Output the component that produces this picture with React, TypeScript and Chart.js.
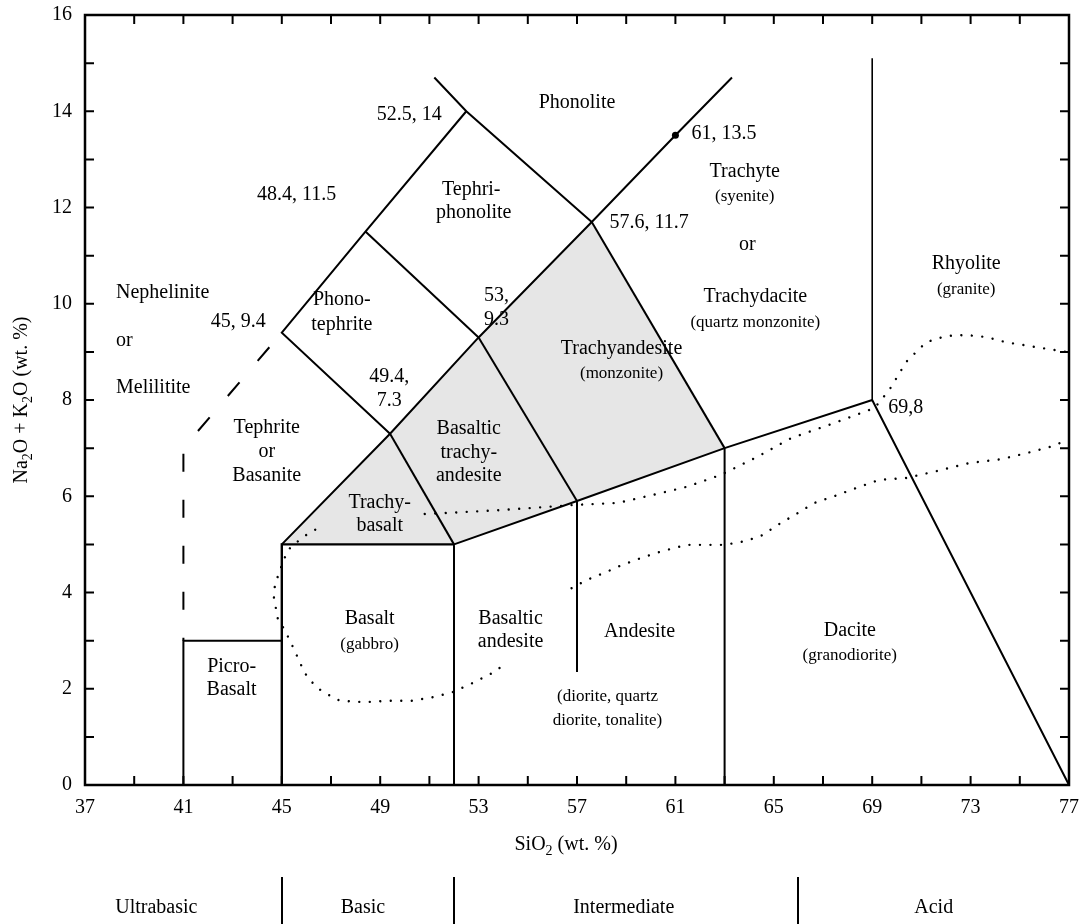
import { useEffect, useRef } from 'react';
import { Chart, registerables } from 'chart.js';

Chart.register(...registerables);

const SERIF = '"Liberation Serif", "Times New Roman", Times, serif';

// Axis ranges and tick spacing
const X_MIN = 37;
const X_MAX = 77;
const X_LABEL_STEP = 4;
const X_MINOR_STEP = 2;
const Y_MIN = 0;
const Y_MAX = 16;
const Y_LABEL_STEP = 2;
const Y_MINOR_STEP = 1;

// Shaded trachytic fields (SiO2, Na2O + K2O)
const trachybasaltField = [[45, 5], [49.4, 7.3], [52, 5], [45, 5]];
const basalticTrachyandesiteField = [[49.4, 7.3], [53, 9.3], [57, 5.9], [52, 5], [49.4, 7.3]];
const trachyandesiteField = [[53, 9.3], [57.6, 11.7], [63, 7], [57, 5.9], [53, 9.3]];

// Solid field boundaries
const picroBasaltEdge = [[41, 0], [41, 3], [45, 3]];
const basaltEdge = [[45, 0], [45, 5], [52, 5]];
const subalkalineTop = [[52, 0], [52, 5], [57, 5.9], [63, 7], [69, 8], [77, 0]];
const andesiteDivide = [[57, 5.9], [57, 2.35]];
const daciteDivide = [[63, 7], [63, 0]];
const alkalineSpine = [[45, 5], [49.4, 7.3], [53, 9.3], [57.6, 11.7], [61, 13.5], [63.3, 14.7]];
const trachybasaltDivide = [[49.4, 7.3], [52, 5]];
const trachyandesiteDivide = [[53, 9.3], [57, 5.9]];
const trachyteDivide = [[57.6, 11.7], [63, 7]];
const tephriteEdge = [[49.4, 7.3], [45, 9.4], [48.4, 11.5], [52.5, 14]];
const phonotephriteDivide = [[48.4, 11.5], [53, 9.3]];
const phonoliteEdge = [[51.2, 14.7], [52.5, 14], [57.6, 11.7]];
const rhyoliteEdge = [[69, 8], [69, 15.1]];
const foiditeEdge = [[41, 3], [41, 7], [45, 9.4]];

// Marked point on the trachyte boundary
const markedPoint = [[61, 13.5]];

// Dotted curves
const dottedUpperA = [
  [53.85, 2.43], [53.57, 2.33], [52.76, 2.12], [51.94, 1.93], [51.21, 1.83], [50.28, 1.75],
  [49.3, 1.75], [48.37, 1.72], [47.36, 1.75], [46.62, 1.95], [46.26, 2.12], [45.93, 2.33],
  [45.45, 2.87], [45.12, 3.22], [44.84, 3.45], [44.68, 3.89], [44.72, 4.16], [44.96, 4.51],
  [45.24, 4.88], [45.85, 5.15], [46.54, 5.36],
];
const dottedUpperB = [
  [50.81, 5.63], [53.85, 5.71], [56.9, 5.82], [58.65, 5.86], [60.27, 6.05], [61.41, 6.19],
  [62.5, 6.38], [62.91, 6.46], [64.33, 6.82], [65.71, 7.21], [67.34, 7.5], [69.08, 7.83],
  [69.37, 8.0], [69.77, 8.27], [70.38, 8.79], [71.19, 9.2], [72.0, 9.33], [72.82, 9.35],
  [73.63, 9.31], [74.44, 9.2], [75.9, 9.08], [76.9, 9.0],
];
const dottedLower = [
  [56.78, 4.09], [57.39, 4.26], [58.12, 4.41], [58.73, 4.55], [59.62, 4.72], [60.47, 4.86],
  [61.45, 4.99], [62.3, 4.99], [62.99, 4.99], [63.88, 5.07], [64.53, 5.19], [65.14, 5.4],
  [65.91, 5.63], [66.64, 5.86], [67.5, 6.01], [68.35, 6.17], [69.28, 6.34], [70.38, 6.38],
  [71.6, 6.52], [72.94, 6.69], [74.24, 6.77], [75.46, 6.92], [76.47, 7.06], [76.96, 7.21],
];

// Field names: text, SiO2, Na2O + K2O, style (m = name, s = rock in parentheses), alignment
const fieldLabels: [string, number, number, string, string][] = [
  ['Phonolite', 57.0, 14.17, 'm', 'c'],
  ['52.5, 14', 50.18, 13.92, 'm', 'c'],
  ['61, 13.5', 61.65, 13.53, 'm', 'l'],
  ['Tephri-', 52.7, 12.36, 'm', 'c'],
  ['phonolite', 52.8, 11.89, 'm', 'c'],
  ['Trachyte', 63.82, 12.74, 'm', 'c'],
  ['(syenite)', 63.82, 12.22, 's', 'c'],
  ['or', 63.92, 11.22, 'm', 'c'],
  ['Trachydacite', 64.25, 10.14, 'm', 'c'],
  ['(quartz monzonite)', 64.25, 9.62, 's', 'c'],
  ['48.4, 11.5', 45.6, 12.26, 'm', 'c'],
  ['57.6, 11.7', 58.32, 11.68, 'm', 'l'],
  ['Rhyolite', 72.82, 10.83, 'm', 'c'],
  ['(granite)', 72.82, 10.29, 's', 'c'],
  ['Nephelinite', 38.26, 10.22, 'm', 'l'],
  ['or', 38.26, 9.23, 'm', 'l'],
  ['Melilitite', 38.26, 8.25, 'm', 'l'],
  ['45, 9.4', 43.23, 9.62, 'm', 'c'],
  ['Phono-', 47.44, 10.08, 'm', 'c'],
  ['tephrite', 47.44, 9.56, 'm', 'c'],
  ['53,', 53.73, 10.16, 'm', 'c'],
  ['9.3', 53.73, 9.66, 'm', 'c'],
  ['Trachyandesite', 58.81, 9.06, 'm', 'c'],
  ['(monzonite)', 58.81, 8.54, 's', 'c'],
  ['49.4,', 49.37, 8.48, 'm', 'c'],
  ['7.3', 49.37, 7.98, 'm', 'c'],
  ['69,8', 69.65, 7.83, 'm', 'l'],
  ['Tephrite', 44.39, 7.42, 'm', 'c'],
  ['or', 44.39, 6.92, 'm', 'c'],
  ['Basanite', 44.39, 6.42, 'm', 'c'],
  ['Basaltic', 52.6, 7.4, 'm', 'c'],
  ['trachy-', 52.6, 6.9, 'm', 'c'],
  ['andesite', 52.6, 6.42, 'm', 'c'],
  ['Trachy-', 48.98, 5.86, 'm', 'c'],
  ['basalt', 48.98, 5.38, 'm', 'c'],
  ['Basalt', 48.57, 3.45, 'm', 'c'],
  ['(gabbro)', 48.57, 2.91, 's', 'c'],
  ['Basaltic', 54.3, 3.45, 'm', 'c'],
  ['andesite', 54.3, 2.97, 'm', 'c'],
  ['Andesite', 59.54, 3.18, 'm', 'c'],
  ['(diorite, quartz', 58.24, 1.83, 's', 'c'],
  ['diorite, tonalite)', 58.24, 1.33, 's', 'c'],
  ['Picro-', 42.96, 2.45, 'm', 'c'],
  ['Basalt', 42.96, 1.97, 'm', 'c'],
  ['Dacite', 68.09, 3.2, 'm', 'c'],
  ['(granodiorite)', 68.09, 2.68, 's', 'c'],
];

// Silica classes below the axis
const classNames = ['Ultrabasic', 'Basic', 'Intermediate', 'Acid'];
const classNameSiO2 = [39.9, 48.3, 58.9, 71.5];
const classDividers = [45, 52, 66];

const toPts = (a: number[][]) => a.map(([x, y]) => ({ x, y }));

const solid = (a: number[][], width = 2) => ({
  data: toPts(a),
  showLine: true,
  borderColor: '#000',
  borderWidth: width,
  borderJoinStyle: 'miter',
  pointRadius: 0,
  fill: false,
  tension: 0,
});

const dotted = (a: number[][]) => ({
  data: toPts(a),
  showLine: true,
  borderColor: '#000',
  borderWidth: 2.4,
  borderCapStyle: 'round',
  borderDash: [0.01, 10.5],
  pointRadius: 0,
  fill: false,
  tension: 0,
});

const shaded = (a: number[][]) => ({
  data: toPts(a),
  showLine: true,
  borderWidth: 0,
  borderColor: 'rgba(0,0,0,0)',
  backgroundColor: '#e6e6e6',
  pointRadius: 0,
  fill: 'shape',
  tension: 0,
});

type Part = [string, boolean];

function drawRich(ctx: CanvasRenderingContext2D, parts: Part[], cx: number, cy: number, size: number) {
  const big = `${size}px ${SERIF}`;
  const small = `${Math.round(size * 0.72)}px ${SERIF}`;
  let w = 0;
  for (const [t, sub] of parts) {
    ctx.font = sub ? small : big;
    w += ctx.measureText(t).width;
  }
  let xx = cx - w / 2;
  ctx.textAlign = 'left';
  ctx.textBaseline = 'middle';
  for (const [t, sub] of parts) {
    ctx.font = sub ? small : big;
    ctx.fillText(t, xx, cy + (sub ? size * 0.32 : 0));
    xx += ctx.measureText(t).width;
  }
}

const TICK = 9;

const tasDecor = {
  id: 'tasDecor',
  afterDraw(chart: any) {
    const { ctx, chartArea: a, scales } = chart;
    const x = scales.x;
    const y = scales.y;
    ctx.save();
    ctx.strokeStyle = '#000';
    ctx.fillStyle = '#000';

    // frame
    ctx.lineWidth = 2.5;
    ctx.strokeRect(a.left, a.top, a.right - a.left, a.bottom - a.top);

    // inward tick marks on all four sides
    ctx.lineWidth = 2;
    ctx.beginPath();
    for (let v = X_MIN; v <= X_MAX; v += X_MINOR_STEP) {
      const px = x.getPixelForValue(v);
      ctx.moveTo(px, a.bottom);
      ctx.lineTo(px, a.bottom - TICK);
      ctx.moveTo(px, a.top);
      ctx.lineTo(px, a.top + TICK);
    }
    for (let v = Y_MIN; v <= Y_MAX; v += Y_MINOR_STEP) {
      const py = y.getPixelForValue(v);
      ctx.moveTo(a.left, py);
      ctx.lineTo(a.left + TICK, py);
      ctx.moveTo(a.right, py);
      ctx.lineTo(a.right - TICK, py);
    }
    ctx.stroke();

    // field names
    for (const [t, sx, sy, style, align] of fieldLabels) {
      ctx.font = `${style === 's' ? 17 : 20}px ${SERIF}`;
      ctx.textAlign = align === 'l' ? 'left' : align === 'r' ? 'right' : 'center';
      ctx.textBaseline = 'middle';
      ctx.fillText(t, x.getPixelForValue(sx), y.getPixelForValue(sy));
    }

    // axis titles
    drawRich(ctx, [['SiO', false], ['2', true], [' (wt. %)', false]], 566, 845, 20);
    ctx.save();
    ctx.translate(22, (a.top + a.bottom) / 2);
    ctx.rotate(-Math.PI / 2);
    drawRich(ctx, [['Na', false], ['2', true], ['O + K', false], ['2', true], ['O (wt. %)', false]], 0, 0, 20);
    ctx.restore();

    // silica classes
    ctx.lineWidth = 2;
    ctx.beginPath();
    for (const d of classDividers) {
      const px = Math.round(x.getPixelForValue(d));
      ctx.moveTo(px, 877);
      ctx.lineTo(px, chart.height);
    }
    ctx.stroke();
    ctx.font = `20px ${SERIF}`;
    ctx.textAlign = 'center';
    ctx.textBaseline = 'middle';
    classNames.forEach((n, i) => ctx.fillText(n, x.getPixelForValue(classNameSiO2[i]), 908));

    ctx.restore();
  },
};

export default function App() {
  const ref = useRef<HTMLCanvasElement | null>(null);

  useEffect(() => {
    if (!ref.current) return;
    // Chart.js paints the first dataset on top, so boundaries come first and fills last.
    const chart = new Chart(ref.current, {
      type: 'scatter',
      data: {
        datasets: [
          {
            data: toPts(markedPoint),
            showLine: false,
            pointRadius: 3.5,
            pointBackgroundColor: '#000',
            pointBorderWidth: 0,
          },
          solid(picroBasaltEdge),
          solid(basaltEdge, 2.4),
          solid(subalkalineTop),
          solid(andesiteDivide),
          solid(daciteDivide),
          solid(alkalineSpine),
          solid(trachybasaltDivide),
          solid(trachyandesiteDivide),
          solid(trachyteDivide),
          solid(tephriteEdge),
          solid(phonotephriteDivide),
          solid(phonoliteEdge),
          solid(rhyoliteEdge, 1.6),
          {
            ...solid(foiditeEdge),
            borderDash: [18, 28],
            borderDashOffset: 15,
            borderCapStyle: 'butt',
          },
          dotted(dottedUpperA),
          dotted(dottedUpperB),
          dotted(dottedLower),
          shaded(trachybasaltField),
          shaded(basalticTrachyandesiteField),
          shaded(trachyandesiteField),
        ] as any,
      },
      options: {
        responsive: false,
        animation: false,
        events: [],
        layout: { padding: { left: 0, right: 13, top: 15, bottom: 94 } },
        plugins: {
          legend: { display: false },
          tooltip: { enabled: false },
        },
        scales: {
          x: {
            type: 'linear',
            min: X_MIN,
            max: X_MAX,
            grid: { display: false, drawTicks: false },
            border: { display: false },
            afterFit: (s: any) => {
              s.height = 45;
              s.paddingLeft = 0;
              s.paddingRight = 0;
            },
            ticks: {
              stepSize: X_LABEL_STEP,
              autoSkip: false,
              maxRotation: 0,
              padding: 11,
              color: '#000',
              font: { family: SERIF, size: 20 },
            },
          },
          y: {
            type: 'linear',
            min: Y_MIN,
            max: Y_MAX,
            grid: { display: false, drawTicks: false },
            border: { display: false },
            afterFit: (s: any) => {
              s.width = 85;
              s.paddingTop = 0;
              s.paddingBottom = 0;
            },
            ticks: {
              stepSize: Y_LABEL_STEP,
              autoSkip: false,
              padding: 13,
              color: '#000',
              font: { family: SERIF, size: 20 },
            },
          },
        },
      } as any,
      plugins: [tasDecor],
    });
    return () => chart.destroy();
  }, []);

  return (
    <div style={{ position: 'fixed', left: 0, top: 0, width: 1082, height: 924, background: '#fff' }}>
      <canvas ref={ref} width={1082} height={924} style={{ display: 'block', width: 1082, height: 924 }} />
    </div>
  );
}
